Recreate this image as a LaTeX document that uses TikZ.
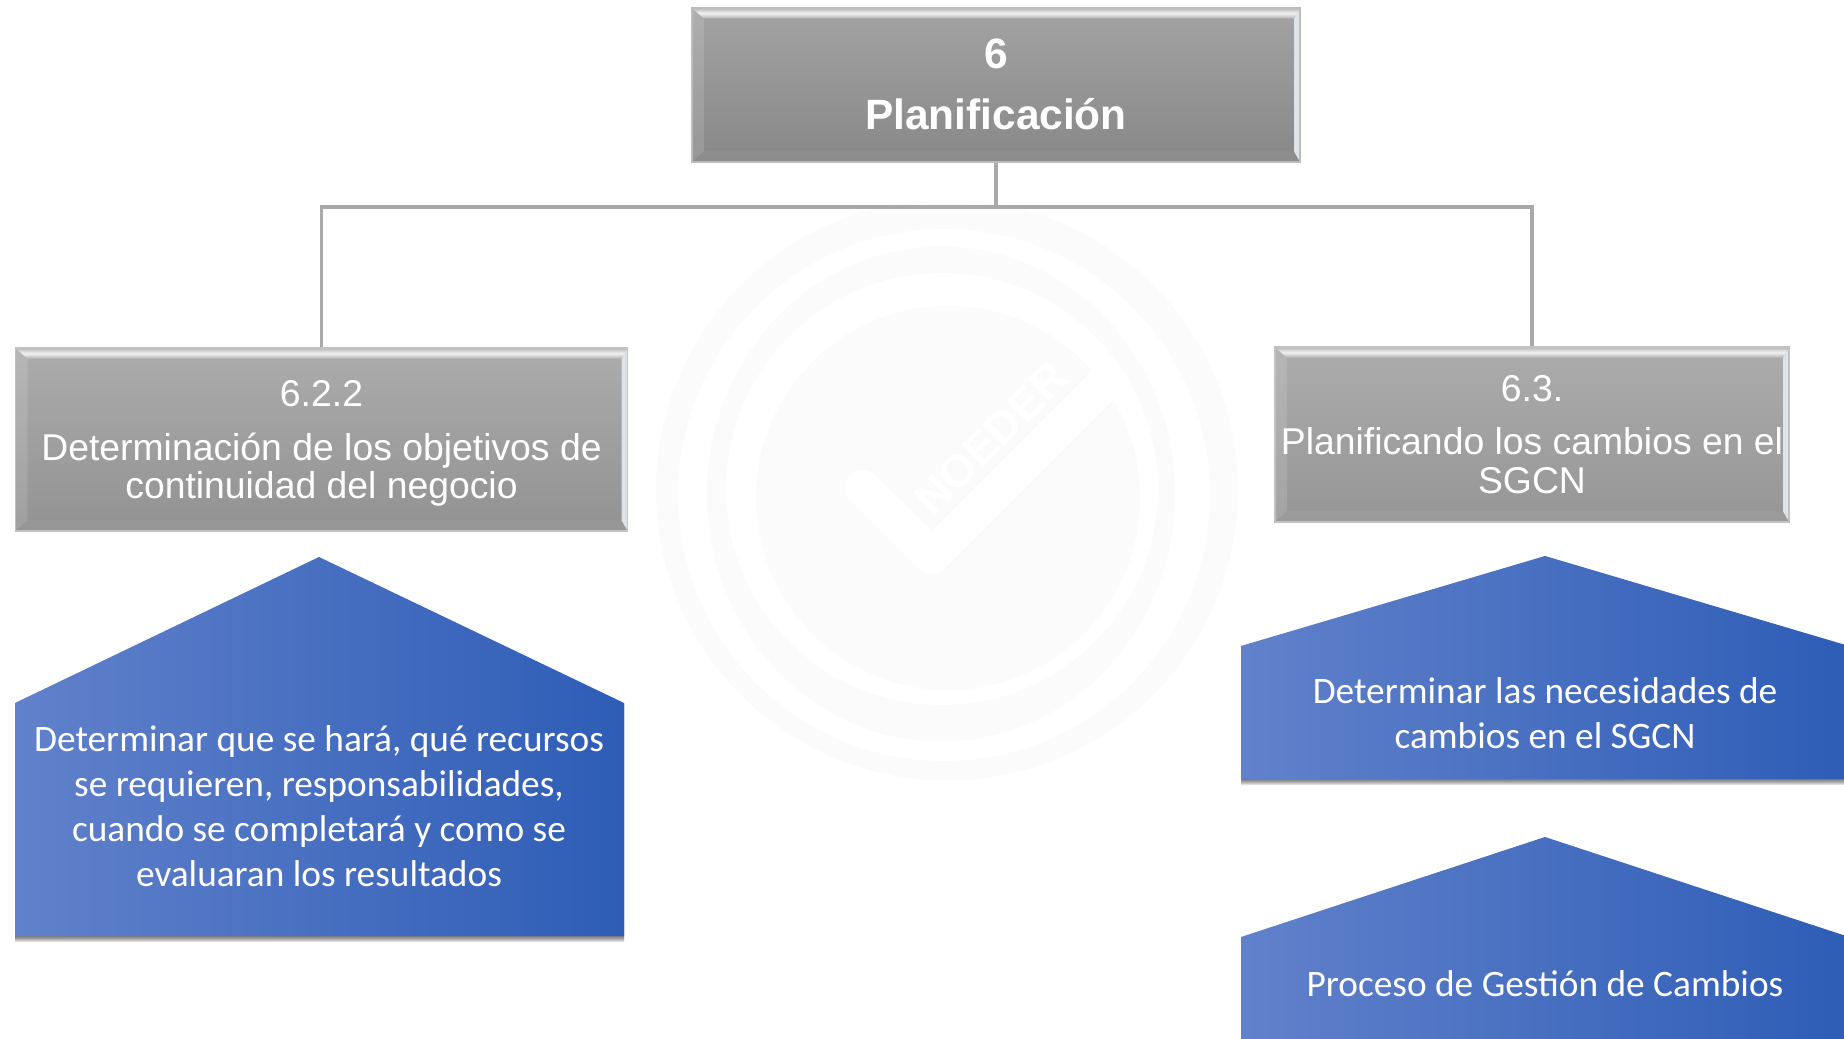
\documentclass[tikz,border=0pt]{standalone}
\usepackage{fontspec}
\setmainfont{Liberation Sans}
\newfontfamily\calfont{Carlito}
\usetikzlibrary{calc}
\definecolor{wmgray}{HTML}{FBFBFB}
\definecolor{linegray}{HTML}{A9A9A9}
\definecolor{blueL}{HTML}{6181CB}
\definecolor{blueM}{HTML}{4472C4}
\definecolor{blueR}{HTML}{2E5DB6}
\definecolor{gTopA}{HTML}{A3A3A3}
\definecolor{gTopB}{HTML}{888888}
\definecolor{gEdgeA}{HTML}{BDBDBD}
\definecolor{gLeftA}{HTML}{ACACAC}
\definecolor{gLeftB}{HTML}{929292}
\definecolor{gRightB}{HTML}{969696}
\definecolor{gEdgeB}{HTML}{C2C2C2}
\definecolor{bevelA}{HTML}{B8B8B8}
\definecolor{bevelB}{HTML}{ADADAD}
\definecolor{bevelC}{HTML}{F2F2F2}
\definecolor{bevelR}{HTML}{DCE4EA}
\tikzset{
  greybox/.style n args={3}{
    rectangle, inner sep=0pt, align=center, text=white, draw=#3, line width=1.1pt,
    top color=#1, bottom color=#2,
    path picture={
      \coordinate (nw) at (path picture bounding box.north west);
      \coordinate (ne) at (path picture bounding box.north east);
      \coordinate (sw) at (path picture bounding box.south west);
      \coordinate (se) at (path picture bounding box.south east);
      \fill[white,opacity=0.13] (nw) -- ($(nw)+(9pt,-8pt)$) -- ($(sw)+(9pt,8pt)$) -- (sw) -- cycle;
      \fill[white,opacity=0.04] (sw) -- ($(sw)+(9pt,8pt)$) -- ($(se)+(-4.5pt,8pt)$) -- (se) -- cycle;
      \fill[bevelR] (ne) -- ($(ne)+(-4.5pt,-8pt)$) -- ($(se)+(-4.5pt,8pt)$) -- (se) -- cycle;
      \shade[top color=bevelA,bottom color=bevelB,middle color=bevelC]
        (nw) -- (ne) -- ($(ne)+(-4.5pt,-8pt)$) -- ($(nw)+(9pt,-8pt)$) -- cycle;
    }},
  pentfill/.style={left color=blueL, middle color=blueM, right color=blueR, draw=none},
  pentshadow/.style={fill=black, opacity=0.11, draw=none},
  penttext/.style={text=white, align=center, font=\calfont\fontsize{28pt}{33.6pt}\selectfont, inner sep=0pt},
  conn/.style={draw=linegray, line width=2.3pt}
}
\newcommand{\pentagon}[6]{% x1 x2 apexx apexy shouldery bottomy
  \foreach \d in {1,2,3,4,5,6}{
    \path[pentshadow] (#1,#5+\d*0.2) -- (#3,#4+\d*0.2) -- (#2,#5+\d*0.2) -- (#2,#6+\d) -- (#1,#6+\d) -- cycle;
  }
  \path[pentfill] (#1,#5) -- (#3,#4) -- (#2,#5) -- (#2,#6) -- (#1,#6) -- cycle;
}
\begin{document}
\begin{tikzpicture}[x=0.75pt,y=-0.75pt]
\useasboundingbox (0,0) rectangle (1844,1038);
\clip (0,0) rectangle (1844,1038);
% watermark
\fill[wmgray] (947,490) ellipse [x radius=291, y radius=290.5];
\fill[white] (944,495) circle [radius=266];
\fill[wmgray] (941,494) ellipse [x radius=234, y radius=247.5];
\fill[white] (942,489) circle [radius=216];
\fill[wmgray] (948,498) circle [radius=192];
\draw[white,line width=27pt,line join=round] (863,488) -- (932,556) -- (1110,378);
\fill[white] (863,488) circle [radius=18];
\node[rotate=45,text=white,inner sep=0pt,font=\bfseries\fontsize{34pt}{36pt}\selectfont] (wmtext) at (991,438) {NOEDER};
% boxes
\node[greybox={gTopA}{gTopB}{gEdgeA}, minimum width=456pt, minimum height=115.5pt,
      font=\bfseries\fontsize{31.8pt}{36pt}\selectfont] (top) at (996,85)
  {\raisebox{0.8pt}{6}\\[10pt]\raisebox{0.8pt}{Planificación}};
\node[greybox={gLeftA}{gLeftB}{gEdgeB}, minimum width=459pt, minimum height=137pt,
      font=\fontsize{28pt}{28.2pt}\selectfont] (left) at (321.5,439.5)
  {\rule{0pt}{25pt}6.2.2\\[12.5pt]Determinación de los objetivos de\\continuidad del negocio};
\node[greybox={gLeftA}{gRightB}{gEdgeB}, minimum width=385.5pt, minimum height=131pt,
      font=\fontsize{28pt}{29pt}\selectfont] (right) at (1532,434.5)
  {6.3.\\[11pt]Planificando los cambios en el\\SGCN};
% connectors
\coordinate (bus) at (996,207);
\draw[conn] (top.south) -- (bus);
\draw[conn] (left.north) |- (bus);
\draw[conn] (right.north) |- (bus);
% pentagons
\pentagon{15}{624}{319}{557}{703}{936}
\pentagon{1241}{1849}{1545}{556}{646}{779}
\pentagon{1241}{1849}{1545}{837}{937}{1050}
\node[penttext] (pa) at (319,806) {Determinar que se hará, qué recursos\\se requieren, responsabilidades,\\cuando se completará y como se\\evaluaran los resultados};
\node[penttext] (pb) at (1545,713) {Determinar las necesidades de\\cambios en el SGCN};
\node[penttext] (pc) at (1545,984) {Proceso de Gestión de Cambios};
\end{tikzpicture}
\end{document}
